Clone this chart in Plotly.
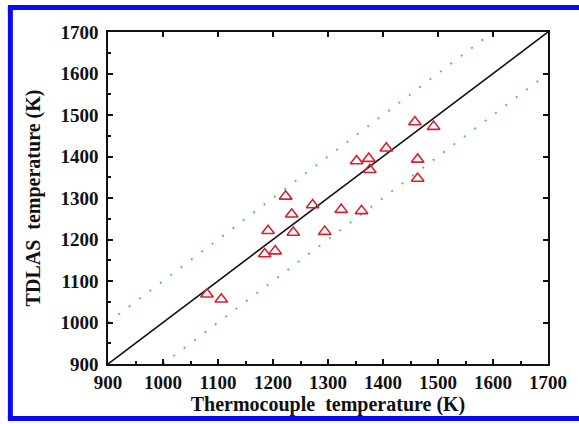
import plotly.graph_objects as go

# Data
thermocouple_K = [1080, 1106, 1185, 1204, 1191, 1237, 1223, 1234, 1272, 1294,
                  1324, 1361, 1352, 1374, 1376, 1406, 1458, 1492, 1463, 1463]
tdlas_K = [1068, 1056, 1165, 1172, 1221, 1217, 1304, 1261, 1283, 1219,
           1272, 1269, 1389, 1395, 1368, 1420, 1483, 1472, 1393, 1347]

diag_x = [900, 1700]
diag_y = [900, 1700]
upper_x = [900, 1600]
upper_y = [1000, 1700]
lower_x = [1000, 1700]
lower_y = [900, 1600]

x_ticks = [900, 1000, 1100, 1200, 1300, 1400, 1500, 1600, 1700]
y_ticks = [900, 1000, 1100, 1200, 1300, 1400, 1500, 1600, 1700]

FONT = "Liberation Serif"
W, H = 579, 424
L, R, T, B = 108, 27, 32, 60
pw, ph = W - L - R, H - T - B

fig = go.Figure()
fig.add_trace(go.Scatter(x=upper_x, y=upper_y, mode="lines",
                         line=dict(color="#5ccc5c", width=2, dash="2px,11px"),
                         showlegend=False, hoverinfo="skip"))
fig.add_trace(go.Scatter(x=lower_x, y=lower_y, mode="lines",
                         line=dict(color="#5ccc5c", width=2, dash="2px,11px"),
                         showlegend=False, hoverinfo="skip"))
fig.add_trace(go.Scatter(x=diag_x, y=diag_y, mode="lines",
                         line=dict(color="#111111", width=1.6),
                         showlegend=False, hoverinfo="skip"))
fig.add_trace(go.Scatter(x=thermocouple_K, y=tdlas_K, mode="markers",
                         marker=dict(symbol="triangle-up-open", size=11,
                                     color="#d8202e", line=dict(width=1.6, color="#d8202e")),
                         showlegend=False))
# invisible trace for the mirror axes
fig.add_trace(go.Scatter(x=[900], y=[900], xaxis="x2", yaxis="y2", mode="markers",
                         marker=dict(opacity=0), showlegend=False, hoverinfo="skip"))

axis_common = dict(range=[900, 1700], tickvals=x_ticks, ticks="inside", ticklen=5,
                   tickwidth=1.5, tickcolor="#111111", showline=True, linewidth=1.5,
                   linecolor="#111111", showgrid=False, zeroline=False)

px2x = lambda px: (px - L) / pw
py2y = lambda py: (H - B - py) / ph
border = dict(color="#0a0af0", width=5)

fig.update_layout(
    width=W, height=H,
    margin=dict(l=L, r=R, t=T, b=B),
    paper_bgcolor="white", plot_bgcolor="white",
    font=dict(family=FONT, size=19, color="#111111"),
    xaxis=dict(**axis_common,
               minor=dict(ticks="inside", ticklen=3, dtick=50, tickwidth=1.5, tickcolor="#111111"),
               tickfont=dict(family=FONT, size=19, weight="bold"),
               title=dict(text="Thermocouple  temperature (K)", standoff=4,
                          font=dict(family=FONT, size=20, weight="bold"))),
    yaxis=dict(**{**axis_common, "tickvals": y_ticks},
               minor=dict(ticks="inside", ticklen=3, dtick=50, tickwidth=1.5, tickcolor="#111111"),
               tickfont=dict(family=FONT, size=19, weight="bold"),
               ticklabelstandoff=4,
               title=dict(text="TDLAS  temperature (K)", standoff=14,
                          font=dict(family=FONT, size=20, weight="bold"))),
    xaxis2=dict(**axis_common, overlaying="x", side="top", showticklabels=False),
    yaxis2=dict(**{**axis_common, "tickvals": y_ticks}, overlaying="y", side="right",
                showticklabels=False),
    shapes=[
        dict(type="line", xref="paper", yref="paper",
             x0=px2x(9.5), x1=px2x(9.5), y0=py2y(418.5), y1=py2y(7.5), line=border),
        dict(type="line", xref="paper", yref="paper",
             x0=px2x(7), x1=px2x(600), y0=py2y(7.5), y1=py2y(7.5), line=border),
        dict(type="line", xref="paper", yref="paper",
             x0=px2x(7), x1=px2x(600), y0=py2y(418.5), y1=py2y(418.5), line=border),
    ],
)

fig.write_html("out.html")
